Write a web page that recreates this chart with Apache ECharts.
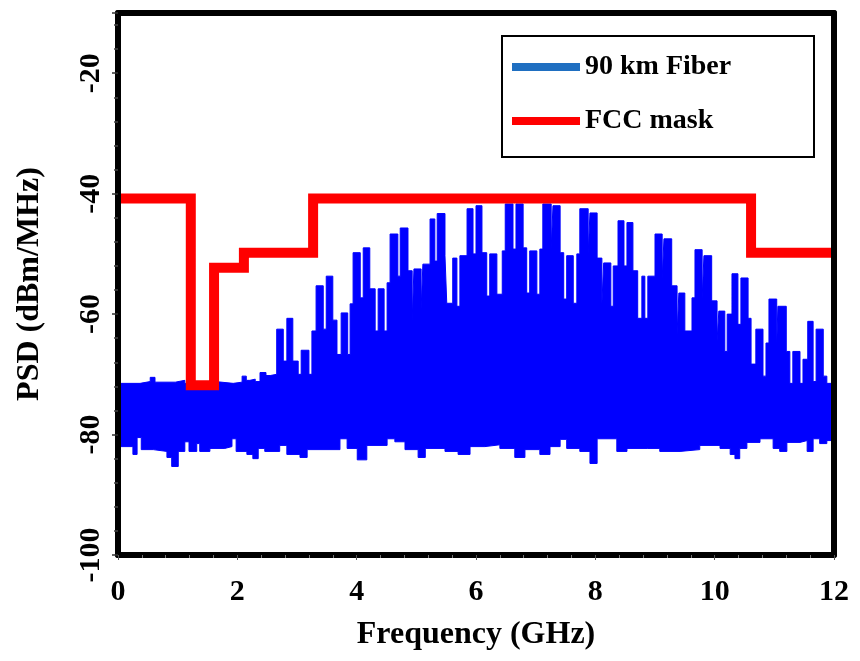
<!DOCTYPE html>
<html>
<head>
<meta charset="utf-8">
<script src="https://cdn.jsdelivr.net/npm/echarts@6/dist/echarts.min.js"></script>
<style>
  html, body { margin: 0; padding: 0; background: #ffffff; }
  #chart { width: 860px; height: 661px; }
</style>
</head>
<body>
<div id="chart"></div>
<script>
// Upper edge of the measured PSD after 90 km of fiber: [frequency GHz, dBm/MHz]
const psdUpper = [
  [0, -71.5], [0.37, -71.2], [0.54, -70.5], [0.62, -71.3], [0.96, -71.0], [1.12, -71.5],
  [1.37, -71.2], [1.63, -71.5], [1.93, -71.3], [2.08, -70.3], [2.15, -71.0], [2.21, -70.8],
  [2.30, -71.2], [2.38, -69.7], [2.48, -70.2], [2.55, -70.0], [2.66, -62.5], [2.77, -67.8],
  [2.83, -60.7], [2.93, -67.8], [3.02, -70.0], [3.07, -66.0], [3.20, -70.0], [3.25, -62.8],
  [3.32, -55.3], [3.44, -62.5], [3.49, -53.7], [3.60, -61.0], [3.67, -66.7], [3.74, -59.8],
  [3.85, -66.7], [3.89, -58.3], [3.94, -49.8], [4.06, -57.3], [4.11, -49.0], [4.22, -55.8],
  [4.31, -62.8], [4.36, -55.8], [4.46, -62.8], [4.51, -54.8], [4.56, -46.7], [4.69, -53.7],
  [4.73, -45.7], [4.86, -52.8], [4.93, -61.2], [4.96, -52.5], [5.08, -59.2], [5.11, -51.7],
  [5.23, -44.2], [5.31, -51.2], [5.35, -43.3], [5.48, -50.3], [5.51, -58.2], [5.61, -50.7],
  [5.68, -58.7], [5.73, -50.3], [5.85, -42.5], [5.95, -50.0], [6.00, -42.0], [6.10, -49.8],
  [6.18, -57.0], [6.23, -50.0], [6.35, -56.7], [6.44, -49.5], [6.49, -41.7], [6.62, -49.2],
  [6.67, -41.7], [6.79, -49.0], [6.85, -56.5], [6.90, -49.5], [7.02, -56.7], [7.07, -49.2],
  [7.12, -41.7], [7.26, -49.2], [7.29, -42.0], [7.41, -49.8], [7.47, -57.5], [7.52, -50.3],
  [7.63, -58.2], [7.69, -50.0], [7.74, -42.5], [7.88, -50.0], [7.91, -43.2], [8.03, -50.7],
  [8.11, -58.3], [8.14, -51.5], [8.26, -58.7], [8.30, -52.0], [8.38, -44.5], [8.48, -52.0],
  [8.53, -44.8], [8.63, -52.8], [8.71, -60.7], [8.78, -53.7], [8.83, -60.7], [8.88, -53.7],
  [9.00, -46.7], [9.12, -54.2], [9.15, -47.5], [9.28, -55.3], [9.37, -63.3], [9.40, -56.5],
  [9.50, -62.8], [9.62, -57.3], [9.67, -49.3], [9.79, -57.5], [9.82, -50.3], [9.95, -57.8],
  [10.04, -64.5], [10.07, -59.5], [10.17, -66.2], [10.21, -60.0], [10.29, -53.3], [10.39, -61.7],
  [10.44, -54.0], [10.56, -60.7], [10.61, -68.3], [10.69, -62.5], [10.81, -70.3], [10.86, -64.8],
  [10.91, -57.5], [11.04, -65.0], [11.06, -58.7], [11.20, -66.2], [11.26, -71.5], [11.31, -66.2],
  [11.43, -71.5], [11.48, -67.5], [11.56, -61.2], [11.65, -71.2], [11.70, -62.5], [11.82, -70.3],
  [11.88, -71.5], [12, -71.5]
];

// Lower edge of the measured PSD (noise floor dips)
const psdLower = [
  [0, -82.0], [0.25, -83.3], [0.32, -80.5], [0.39, -82.5], [0.59, -82.8], [0.82, -83.8],
  [0.90, -85.3], [1.01, -82.8], [1.12, -81.2], [1.19, -82.8], [1.32, -81.5], [1.37, -82.8],
  [1.54, -82.3], [1.79, -82.0], [1.91, -80.7], [1.98, -82.8], [2.16, -83.3], [2.26, -84.0],
  [2.35, -82.3], [2.46, -82.8], [2.71, -81.8], [2.83, -83.3], [3.05, -83.8], [3.17, -82.5],
  [3.72, -80.7], [3.84, -82.3], [4.01, -84.2], [4.17, -81.8], [4.51, -80.7], [4.64, -81.2],
  [4.81, -82.5], [5.03, -83.8], [5.15, -82.3], [5.48, -82.8], [5.70, -83.3], [5.90, -82.0],
  [6.15, -81.7], [6.40, -82.3], [6.65, -83.8], [6.82, -82.5], [7.07, -83.3], [7.24, -82.0],
  [7.41, -80.8], [7.52, -82.3], [7.74, -82.8], [7.91, -84.8], [8.03, -80.7], [8.36, -82.8],
  [8.53, -82.3], [8.87, -82.3], [9.08, -82.8], [9.42, -82.5], [9.75, -81.8], [10.09, -82.3],
  [10.26, -83.3], [10.34, -84.0], [10.42, -82.3], [10.54, -81.3], [10.76, -80.7], [10.98, -82.3],
  [11.09, -82.8], [11.21, -81.3], [11.43, -81.0], [11.55, -82.8], [11.65, -80.7], [11.76, -81.5],
  [11.88, -81.0], [12, -81.0]
];

// FCC emission mask (step edges): [frequency GHz, dBm/MHz]
const fccMask = [
  [0, -40.8], [1.22, -71.8], [1.61, -52.3], [2.11, -49.8], [3.27, -40.8], [10.61, -49.8], [12, -49.8]
];

const freqRange = [0, 12];
const freqStep = 2;
const psdRange = [-100, -10];
const psdStep = 20;

const serif = 'Liberation Serif, Times New Roman, serif';
const frameLine = { show: true, onZero: false, lineStyle: { color: '#000', width: 6 } };

const chart = echarts.init(document.getElementById('chart'), null, { renderer: 'canvas' });

chart.setOption({
  animation: false,
  backgroundColor: '#ffffff',
  grid: { left: 118, right: 26, top: 13, bottom: 106 },
  graphic: [{
    type: 'rect',
    z: 5,
    shape: { x: 502, y: 36, width: 312, height: 121 },
    style: { fill: '#ffffff', stroke: '#000000', lineWidth: 2 }
  }],
  legend: {
    z: 6,
    left: 512,
    top: 52,
    orient: 'vertical',
    padding: 0,
    itemWidth: 68,
    itemHeight: 8,
    itemGap: 24,
    icon: 'rect',
    textStyle: { fontFamily: serif, fontWeight: 'bold', fontSize: 28, lineHeight: 30, color: '#000' },
    data: [
      { name: '90 km Fiber', itemStyle: { color: '#1f6fc1' } },
      { name: 'FCC mask', itemStyle: { color: '#ff0000' } }
    ]
  },
  xAxis: [{
    type: 'value',
    position: 'bottom',
    min: freqRange[0], max: freqRange[1], interval: freqStep,
    z: 10,
    axisLine: frameLine,
    axisTick: { show: true, length: 5, lineStyle: { color: '#555', width: 1 } },
    minorTick: { show: true, splitNumber: 5, length: 3, lineStyle: { color: '#777', width: 1 } },
    splitLine: { show: false },
    axisLabel: { margin: 22, fontFamily: serif, fontWeight: 'bold', fontSize: 30, color: '#000' },
    name: 'Frequency (GHz)',
    nameLocation: 'middle',
    nameGap: 64,
    nameTextStyle: { fontFamily: serif, fontWeight: 'bold', fontSize: 32, color: '#000' }
  }, {
    type: 'value',
    position: 'top',
    min: freqRange[0], max: freqRange[1],
    z: 10,
    axisLine: frameLine,
    axisTick: { show: false },
    axisLabel: { show: false },
    splitLine: { show: false }
  }],
  yAxis: [{
    type: 'value',
    position: 'left',
    min: psdRange[0], max: psdRange[1], interval: psdStep,
    z: 10,
    axisLine: frameLine,
    axisTick: { show: true, length: 6, lineStyle: { color: '#333', width: 1.5 } },
    minorTick: { show: true, splitNumber: 5, length: 4, lineStyle: { color: '#444', width: 1.5 } },
    splitLine: { show: false },
    axisLabel: {
      rotate: 90, margin: 12,
      fontFamily: serif, fontWeight: 'bold', fontSize: 30, color: '#000',
      formatter: v => (v === psdRange[1] ? '' : String(v))
    },
    name: 'PSD (dBm/MHz)',
    nameLocation: 'middle',
    nameRotate: 90,
    nameGap: 72,
    nameTextStyle: { fontFamily: serif, fontWeight: 'bold', fontSize: 32, color: '#000' }
  }, {
    type: 'value',
    position: 'right',
    min: psdRange[0], max: psdRange[1],
    z: 10,
    axisLine: frameLine,
    axisTick: { show: false },
    axisLabel: { show: false },
    splitLine: { show: false }
  }],
  series: [{
    name: '90 km Fiber',
    type: 'line',
    step: 'end',
    data: psdUpper,
    symbol: 'none',
    z: 2,
    itemStyle: { color: '#0000ff' },
    lineStyle: { color: '#0000ff', width: 1 },
    areaStyle: { color: '#0000ff', opacity: 1, origin: 'start' }
  }, {
    name: 'noise floor edge',
    type: 'line',
    step: 'end',
    data: psdLower,
    symbol: 'none',
    silent: true,
    z: 3,
    lineStyle: { color: '#0000ff', width: 1 },
    areaStyle: { color: '#ffffff', opacity: 1, origin: 'start' }
  }, {
    name: 'FCC mask',
    type: 'line',
    step: 'end',
    data: fccMask,
    symbol: 'none',
    z: 4,
    itemStyle: { color: '#ff0000' },
    lineStyle: { color: '#ff0000', width: 10, join: 'miter', cap: 'butt' }
  }]
});
</script>
</body>
</html>
